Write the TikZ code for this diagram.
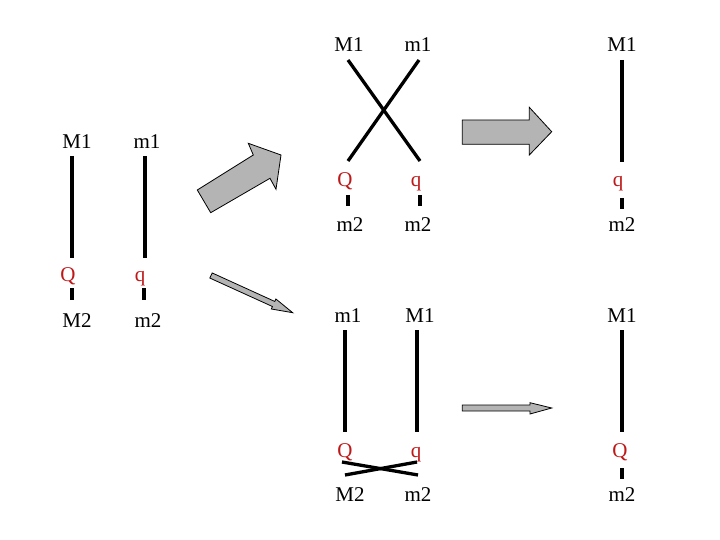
\documentclass[tikz,border=0pt]{standalone}
\usepackage{fontspec}
\setmainfont{Liberation Serif}
\definecolor{lblred}{RGB}{190,25,25}
\definecolor{arrgray}{RGB}{180,180,180}
\begin{document}
\begin{tikzpicture}[x=1pt,y=-1pt,
  lbl/.style={anchor=base,inner sep=0pt,font=\fontsize{21}{25}\selectfont},
  rlbl/.style={lbl,text=lblred},
  chrom/.style={line width=3.3pt},
  blockarrow/.style={fill=arrgray,draw=black,line width=0.8pt,line join=miter}]
\useasboundingbox (0,0) rectangle (720,540);

% ---- left pair
\node[lbl]  (a1) at (77,149) {M1};
\node[lbl]  (b1) at (147,149) {m1};
\node[rlbl] (a2) at (68,281) {Q};
\node[rlbl] (b2) at (140,281) {q};
\node[lbl]  (a3) at (77,327) {M2};
\node[lbl]  (b3) at (148,327) {m2};
\coordinate (a1s) at (72,156); \coordinate (a2n) at (72,258);
\coordinate (a2s) at (72,288); \coordinate (a3n) at (72,300);
\coordinate (b1s) at (145,156); \coordinate (b2n) at (145,258);
\coordinate (b2s) at (144,288); \coordinate (b3n) at (144,300);
\draw[chrom] (a1s) -- (a2n);
\draw[chrom] (a2s) -- (a3n);
\draw[chrom] (b1s) -- (b2n);
\draw[chrom] (b2s) -- (b3n);

% ---- top middle (crossed)
\node[lbl]  (c1) at (349,52) {M1};
\node[lbl]  (d1) at (418,52) {m1};
\node[rlbl] (c2) at (345,187) {Q};
\node[rlbl] (d2) at (416,187) {q};
\node[lbl]  (c3) at (350,232) {m2};
\node[lbl]  (d3) at (418,232) {m2};
\coordinate (c1s) at (348,60); \coordinate (d2n) at (420,161);
\coordinate (d1s) at (419,60); \coordinate (c2n) at (348,161);
\coordinate (c2s) at (348,195); \coordinate (c3n) at (348,206);
\coordinate (d2s) at (420,195); \coordinate (d3n) at (420,206);
\draw[chrom] (c1s) -- (d2n);
\draw[chrom] (d1s) -- (c2n);
\draw[chrom] (c2s) -- (c3n);
\draw[chrom] (d2s) -- (d3n);

% ---- top right
\node[lbl]  (e1) at (622,52) {M1};
\node[rlbl] (e2) at (618,187) {q};
\node[lbl]  (e3) at (622,232) {m2};
\coordinate (e1s) at (622,60); \coordinate (e2n) at (622,162);
\coordinate (e2s) at (622,198); \coordinate (e3n) at (622,209);
\draw[chrom] (e1s) -- (e2n);
\draw[chrom] (e2s) -- (e3n);

% ---- bottom middle
\node[lbl]  (f1) at (348,322) {m1};
\node[lbl]  (g1) at (420,322) {M1};
\node[rlbl] (f2) at (345,457) {Q};
\node[rlbl] (g2) at (416,457) {q};
\node[lbl]  (f3) at (350,501) {M2};
\node[lbl]  (g3) at (418,501) {m2};
\coordinate (f1s) at (345,330); \coordinate (f2n) at (345,432);
\coordinate (g1s) at (417,330); \coordinate (g2n) at (417,432);
\coordinate (x1) at (342,462); \coordinate (x2) at (418,475);
\coordinate (x3) at (345,475); \coordinate (x4) at (417,462);
\draw[chrom] (f1s) -- (f2n);
\draw[chrom] (g1s) -- (g2n);
\draw[chrom] (x1) -- (x2);
\draw[chrom] (x3) -- (x4);

% ---- bottom right
\node[lbl]  (h1) at (622,322) {M1};
\node[rlbl] (h2) at (620,457) {Q};
\node[lbl]  (h3) at (622,501) {m2};
\coordinate (h1s) at (622,330); \coordinate (h2n) at (622,432);
\coordinate (h2s) at (622,468); \coordinate (h3n) at (622,479);
\draw[chrom] (h1s) -- (h2n);
\draw[chrom] (h2s) -- (h3n);

% ---- arrows
\draw[blockarrow] (197.3,190) -- (253.3,155) -- (248.3,143.3) -- (281,155)
  -- (276,189.3) -- (270,178.3) -- (210.7,212.7) -- cycle;
\draw[blockarrow] (462.3,120) -- (529.3,120) -- (529.3,107.3) -- (551.7,131.7)
  -- (529.3,155) -- (529.3,144.3) -- (462.3,144.3) -- cycle;
\draw[blockarrow] (212.2,272.95) -- (274.76,301.45) -- (275.9,299.0) -- (292.7,312.7)
  -- (271.3,309.0) -- (272.4,306.5) -- (209.8,278.05) -- cycle;
\draw[blockarrow] (462.3,405) -- (530,405) -- (530,402.7) -- (551.7,408)
  -- (530,414) -- (530,411) -- (462.3,411) -- cycle;
\end{tikzpicture}
\end{document}
